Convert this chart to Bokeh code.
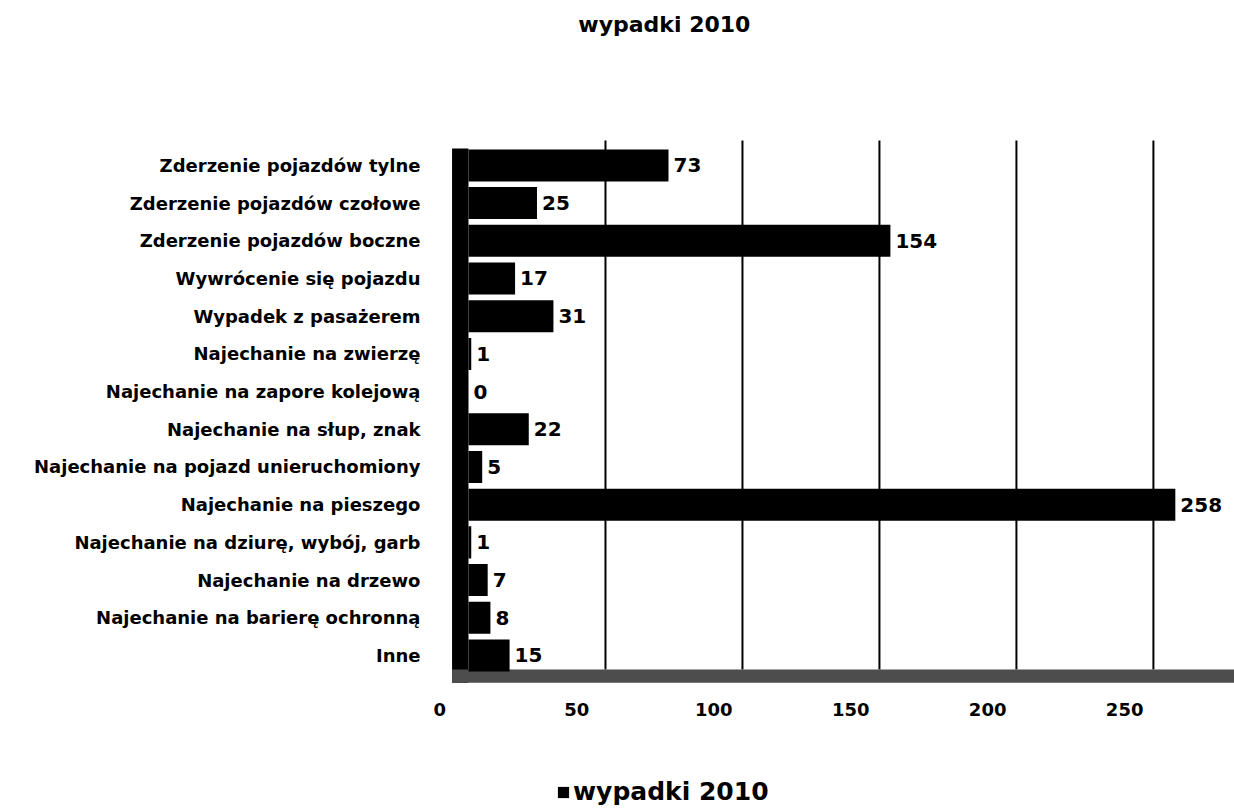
from bokeh.plotting import figure
from bokeh.models import (Range1d, FixedTicker, Legend, LegendItem, Label)
from bokeh.embed import file_html
from bokeh.resources import INLINE
from bokeh.core.properties import value

title_text = "wypadki 2010"
series_name = "wypadki 2010"
categories = [
    "Zderzenie pojazdów tylne",
    "Zderzenie pojazdów czołowe",
    "Zderzenie pojazdów boczne",
    "Wywrócenie się pojazdu",
    "Wypadek z pasażerem",
    "Najechanie na zwierzę",
    "Najechanie na zapore kolejową",
    "Najechanie na słup, znak",
    "Najechanie na pojazd unieruchomiony",
    "Najechanie na pieszego",
    "Najechanie na dziurę, wybój, garb",
    "Najechanie na drzewo",
    "Najechanie na barierę ochronną",
    "Inne",
]
values = [73, 25, 154, 17, 31, 1, 0, 22, 5, 258, 1, 7, 8, 15]
x_ticks = [0, 50, 100, 150, 200, 250]

FONT = "DejaVu Sans"
X_START, X_END = -14.6, 279.6
Y_START, Y_END = -4.085, 17.374
LABEL_SHIFT = 10.5       # 3D perspective shift of the floor tick labels
WALL_LEFT = -6.0
FLOOR_BOTTOM, FLOOR_TOP = -0.72, -0.37
GRID_TOP = 13.66
WALL_TOP = 13.45
TICK_LABEL_Y = -1.43

n = len(categories)
rows = [n - 1 - i for i in range(n)]      # first category on top

p = figure(
    width=1234, height=809,
    x_range=Range1d(X_START, X_END), y_range=Range1d(Y_START, Y_END),
    output_backend="svg", toolbar_location=None,
    x_axis_location=None, title=None,
    min_border_left=428, min_border_right=0,
    min_border_top=0, min_border_bottom=0,
    outline_line_color=None,
)
p.xgrid.visible = False
p.ygrid.visible = False

# vertical grid lines (values 50..250)
grid_x = [t for t in x_ticks if t > 0]
p.segment(x0=grid_x, x1=grid_x, y0=[FLOOR_TOP] * len(grid_x), y1=[GRID_TOP] * len(grid_x),
          line_color="black", line_width=2)

# back wall and floor of the 3D chart
p.quad(left=[WALL_LEFT], right=[0], bottom=[FLOOR_BOTTOM], top=[WALL_TOP],
       fill_color="black", line_color=None)
p.quad(left=[WALL_LEFT], right=[X_END], bottom=[FLOOR_BOTTOM], top=[FLOOR_TOP],
       fill_color="#4d4d4d", line_color=None)

bars = p.hbar(y=rows, right=values, left=0, height=0.85,
              fill_color="black", line_color=None)

p.text(x=values, y=rows, text=[str(v) for v in values],
       x_offset=5, text_baseline="middle", text_align="left",
       text_font=value(FONT), text_font_style="bold", text_font_size="20px",
       text_color="black")

# value-axis tick labels on the floor (shifted by perspective)
p.text(x=[t - LABEL_SHIFT for t in x_ticks], y=[TICK_LABEL_Y] * len(x_ticks),
       text=[str(t) for t in x_ticks], text_align="center", text_baseline="middle",
       text_font=value(FONT), text_font_style="bold", text_font_size="18px",
       text_color="black")

yax = p.yaxis[0]
yax.ticker = FixedTicker(ticks=rows)
yax.major_label_overrides = {r: c for r, c in zip(rows, categories)}
yax.axis_line_color = None
yax.major_tick_line_color = None
yax.minor_tick_line_color = None
yax.major_tick_out = 0
yax.major_label_standoff = 8
yax.major_label_text_font = FONT
yax.major_label_text_font_style = "bold"
yax.major_label_text_font_size = "18px"
yax.major_label_text_color = "black"

title = Label(x=71.5, y=16.75, text=title_text, text_align="center", text_baseline="middle",
              text_font=FONT, text_font_style="bold", text_font_size="22px",
              text_color="black")
p.add_layout(title)

legend = Legend(items=[LegendItem(label=series_name, renderers=[bars])],
                location=(128, 3), orientation="horizontal",
                label_text_font=FONT, label_text_font_style="bold",
                label_text_font_size="25px", label_text_color="black",
                glyph_width=14, glyph_height=14, label_standoff=3,
                padding=2, margin=0, spacing=0,
                border_line_color=None, background_fill_alpha=0)
p.add_layout(legend)

open("out.html", "w").write(file_html(p, INLINE))
